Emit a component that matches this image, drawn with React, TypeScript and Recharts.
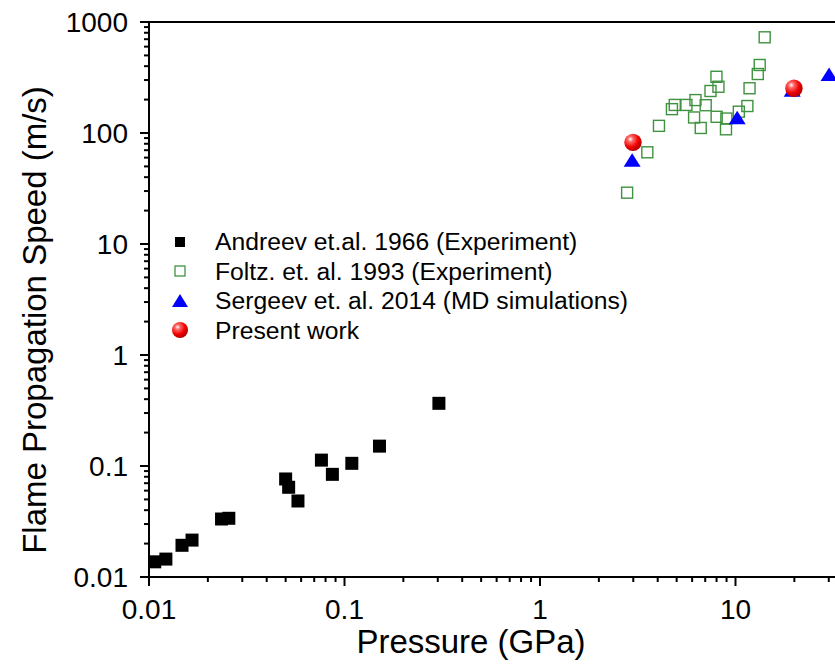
import React from 'react';
import { ScatterChart, Scatter, XAxis, YAxis, ReferenceLine, Legend } from 'recharts';

// Andreev et.al. 1966 (Experiment)
const andreevP = [0.0107, 0.0122, 0.01475, 0.0166, 0.0235, 0.0256, 0.05, 0.0518, 0.0578, 0.0762, 0.0867, 0.109, 0.151, 0.304];
const andreevV = [0.0137, 0.0145, 0.0193, 0.0215, 0.0333, 0.0338, 0.0764, 0.0643, 0.0484, 0.113, 0.0841, 0.1057, 0.151, 0.367];

// Foltz. et. al. 1993 (Experiment)
const foltzP = [14.1, 13.3, 13.0, 11.8, 11.5, 10.4, 7.99, 8.18, 7.45, 6.24, 7.04, 5.61, 4.89, 4.73, 6.14, 6.64, 8.01, 8.98, 8.94, 4.06, 3.54, 2.79];
const foltzV = [728, 410, 340, 253, 175, 155.6, 321, 261, 239, 198, 178, 179, 179, 164, 138, 111, 140, 135, 108, 116, 67, 29];

// Sergeev et. al. 2014 (MD simulations)
const sergeevP = [2.96, 10.2, 19.5, 30.1];
const sergeevV = [56.3, 135.6, 240, 333];

// Present work
const presentP = [2.99, 19.9];
const presentV = [82.4, 253];

const xMajor = [0.01, 0.1, 1, 10, 100];
const xMajorLabels = ['0.01', '0.1', '1', '10', ''];
const yMajor = [0.01, 0.1, 1, 10, 100, 1000];
const yMajorLabels = ['0.01', '0.1', '1', '10', '100', '1000'];
const mantissas = [1, 2, 3, 4, 5, 6, 7, 8, 9];

const buildTicks = (majors: number[]) => {
  const out: number[] = [];
  majors.forEach((d, i) => {
    if (i === majors.length - 1) {
      out.push(d);
    } else {
      mantissas.forEach((m) => out.push(parseFloat((m * d).toPrecision(6))));
    }
  });
  return out;
};
const xTicks = buildTicks(xMajor);
const yTicks = buildTicks(yMajor);

const toPts = (xs: number[], ys: number[]) => xs.map((x, i) => ({ x, y: ys[i] }));
const andreevData = toPts(andreevP, andreevV);
const foltzData = toPts(foltzP, foltzV);
const sergeevData = toPts(sergeevP, sergeevV);
const presentData = toPts(presentP, presentV);

const FONT = '"Liberation Sans", Arial, sans-serif';

const majorIndex = (v: number, majors: number[]) =>
  majors.findIndex((m) => Math.abs(v - m) / m < 1e-6);

const XTick = (props: any) => {
  const { x, y, payload } = props;
  const idx = majorIndex(payload.value, xMajor);
  const major = idx >= 0;
  return (
    <g>
      <line x1={x} x2={x} y1={y} y2={y + (major ? 9 : 5)} stroke="#000" strokeWidth={2} />
      {major && xMajorLabels[idx] !== '' && (
        <text x={x} y={y + 42} textAnchor="middle" fontSize={28} fontFamily={FONT} fill="#000">
          {xMajorLabels[idx]}
        </text>
      )}
    </g>
  );
};

const YTick = (props: any) => {
  const { x, y, payload } = props;
  const idx = majorIndex(payload.value, yMajor);
  const major = idx >= 0;
  return (
    <g>
      <line x1={x - (major ? 9 : 5)} x2={x} y1={y} y2={y} stroke="#000" strokeWidth={2} />
      {major && (
        <text x={x - 21} y={y + 10} textAnchor="end" fontSize={28} fontFamily={FONT} fill="#000">
          {yMajorLabels[idx]}
        </text>
      )}
    </g>
  );
};

const BlackSquare = (p: any) => <rect x={p.cx - 6.5} y={p.cy - 6.5} width={13} height={13} fill="#000" />;
const GreenSquare = (p: any) => (
  <rect x={p.cx - 5.5} y={p.cy - 5.5} width={11} height={11} fill="none" stroke="#3f923f" strokeWidth={1.4} />
);
const BlueTriangle = (p: any) => (
  <polygon points={`${p.cx},${p.cy - 7.5} ${p.cx - 8.5},${p.cy + 6} ${p.cx + 8.5},${p.cy + 6}`} fill="#0000ff" />
);
const RedSphere = (p: any) => <circle cx={p.cx} cy={p.cy} r={8.7} fill="url(#sphereGrad)" />;

const legendItems = [
  { label: 'Andreev et.al. 1966 (Experiment)', kind: 'black' },
  { label: 'Foltz. et. al. 1993 (Experiment)', kind: 'green' },
  { label: 'Sergeev et. al. 2014 (MD simulations)', kind: 'blue' },
  { label: 'Present work', kind: 'red' },
];

const LegendMarker = ({ kind }: { kind: string }) => (
  <svg width={20} height={20} style={{ display: 'block' }}>
    <defs>
      <radialGradient id="legSphere" cx="35%" cy="32%" r="70%">
        <stop offset="0%" stopColor="#ffffff" />
        <stop offset="22%" stopColor="#ff6a6a" />
        <stop offset="65%" stopColor="#f00000" />
        <stop offset="100%" stopColor="#b00000" />
      </radialGradient>
    </defs>
    {kind === 'black' && <rect x={5} y={5} width={10} height={10} fill="#000" />}
    {kind === 'green' && <rect x={5} y={5} width={10} height={10} fill="none" stroke="#3f923f" strokeWidth={1.3} />}
    {kind === 'blue' && <polygon points="10,3 2,16 18,16" fill="#0000ff" />}
    {kind === 'red' && <circle cx={10} cy={10} r={8} fill="url(#legSphere)" />}
  </svg>
);

const renderLegend = () => (
  <div style={{ fontFamily: FONT, fontSize: 24.7, color: '#000' }}>
    {legendItems.map((it) => (
      <div key={it.label} style={{ display: 'flex', alignItems: 'center', height: 29.5, whiteSpace: 'nowrap' }}>
        <LegendMarker kind={it.kind} />
        <span style={{ marginLeft: 25, lineHeight: '29.5px' }}>{it.label}</span>
      </div>
    ))}
  </div>
);

export default function App() {
  return (
    <div
      style={{
        position: 'absolute',
        left: 0,
        top: 0,
        width: 835,
        height: 666,
        overflow: 'hidden',
        background: '#fff',
      }}
    >
      <ScatterChart width={1000} height={666} margin={{ top: 22, right: 69, bottom: 29, left: 0 }}>
        <defs>
          <radialGradient id="sphereGrad" cx="35%" cy="32%" r="70%">
            <stop offset="0%" stopColor="#ffffff" />
            <stop offset="22%" stopColor="#ff6a6a" />
            <stop offset="65%" stopColor="#f00000" />
            <stop offset="100%" stopColor="#b00000" />
          </radialGradient>
        </defs>
        <XAxis
          type="number"
          dataKey="x"
          scale="log"
          domain={[0.01, 100]}
          allowDataOverflow
          ticks={xTicks}
          interval={0}
          tickSize={0}
          tickMargin={0}
          tick={<XTick />}
          axisLine={{ stroke: '#000', strokeWidth: 2 }}
          height={60}
          label={{
            content: () => (
              <text x={471} y={653} textAnchor="middle" fontSize={33} fontFamily={FONT} fill="#000">
                Pressure (GPa)
              </text>
            ),
          }}
        />
        <YAxis
          type="number"
          dataKey="y"
          scale="log"
          domain={[0.01, 1000]}
          allowDataOverflow
          ticks={yTicks}
          interval={0}
          tickSize={0}
          tickMargin={0}
          tick={<YTick />}
          axisLine={{ stroke: '#000', strokeWidth: 2 }}
          width={149}
          label={{
            content: () => (
              <text
                x={46}
                y={320}
                transform="rotate(-90 46 320)"
                textAnchor="middle"
                fontSize={33}
                fontFamily={FONT}
                fill="#000"
              >
                Flame Propagation Speed (m/s)
              </text>
            ),
          }}
        />
        <ReferenceLine y={1000} stroke="#000" strokeWidth={2} />
        <Legend
          layout="vertical"
          align="center"
          verticalAlign="middle"
          content={renderLegend}
          wrapperStyle={{ position: 'absolute', left: 170, top: 227, width: 520 }}
        />
        <Scatter name="Foltz. et. al. 1993 (Experiment)" data={foltzData} shape={GreenSquare} isAnimationActive={false} />
        <Scatter name="Andreev et.al. 1966 (Experiment)" data={andreevData} shape={BlackSquare} isAnimationActive={false} />
        <Scatter name="Sergeev et. al. 2014 (MD simulations)" data={sergeevData} shape={BlueTriangle} isAnimationActive={false} />
        <Scatter name="Present work" data={presentData} shape={RedSphere} isAnimationActive={false} />
      </ScatterChart>
    </div>
  );
}
